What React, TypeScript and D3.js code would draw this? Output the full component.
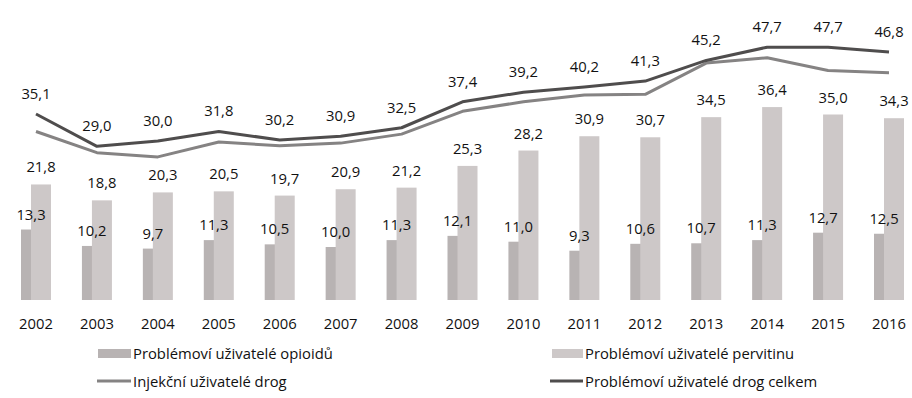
import React from "react";
import * as d3 from "d3";

const years = ["2002","2003","2004","2005","2006","2007","2008","2009","2010","2011","2012","2013","2014","2015","2016"];
const opioids = [13.3,10.2,9.7,11.3,10.5,10.0,11.3,12.1,11.0,9.3,10.6,10.7,11.3,12.7,12.5];
const pervitin = [21.8,18.8,20.3,20.5,19.7,20.9,21.2,25.3,28.2,30.9,30.7,34.5,36.4,35.0,34.3];
const injecting = [31.8,27.8,27.0,29.8,29.1,29.6,31.3,35.6,37.4,38.7,38.8,44.7,45.7,43.3,42.9];
const total = [35.1,29.0,30.0,31.8,30.2,30.9,32.5,37.4,39.2,40.2,41.3,45.2,47.7,47.7,46.8];
const legendLabels = ["Problémoví uživatelé opioidů","Problémoví uživatelé pervitinu","Injekční uživatelé drog","Problémoví uživatelé drog celkem"];

const W = 912, H = 398;
const FONT = "'Open Sans', 'Noto Sans', sans-serif";
const C_OPI = "#b8b3b3";
const C_PER = "#cdc8c8";
const C_INJ = "#858383";
const C_TOT = "#4f4d4d";
const C_TXT = "#111111";

const fmt = (v: number) => v.toFixed(1).replace(".", ",");

export default function App() {
  const x = d3.scalePoint<string>().domain(years).range([36, 889]);
  const y = d3.scaleLinear().domain([0, 50]).range([300, 35]);
  const barW = 20;
  const line = d3.line<number>().x((_, i) => x(years[i])!).y(d => y(d));

  return (
    <svg width={W} height={H} style={{ position: "absolute", left: 0, top: 0, background: "#fff" }} fontFamily={FONT}>
      <rect width={W} height={H} fill="#fff" />
      {years.map((yr, i) => {
        const cx = x(yr)!;
        return (
          <g key={yr}>
            <rect x={cx - 15} y={y(opioids[i])} width={barW} height={y(0) - y(opioids[i])} fill={C_OPI} />
            <rect x={cx - 5} y={y(pervitin[i])} width={barW} height={y(0) - y(pervitin[i])} fill={C_PER} />
          </g>
        );
      })}
      <path d={line(injecting)!} fill="none" stroke={C_INJ} strokeWidth={3} strokeLinejoin="round" />
      <path d={line(total)!} fill="none" stroke={C_TOT} strokeWidth={3} strokeLinejoin="round" />
      {years.map((yr, i) => {
        const cx = x(yr)!;
        return (
          <g key={"l" + yr} fontSize={14.8} fill={C_TXT} textAnchor="middle">
            <text x={cx - 5} y={y(opioids[i]) - 10}>{fmt(opioids[i])}</text>
            <text x={cx + 5} y={y(pervitin[i]) - 12}>{fmt(pervitin[i])}</text>
            <text x={cx} y={y(total[i]) - 15}>{fmt(total[i])}</text>
            <text x={cx} y={328.5}>{yr}</text>
          </g>
        );
      })}
      <g fontSize={14.8} fill={C_TXT}>
        <rect x={98} y={349} width={33} height={9} fill={C_OPI} />
        <text x={133} y={358.5}>{legendLabels[0]}</text>
        <rect x={552} y={349} width={31} height={9} fill={C_PER} />
        <text x={585} y={358.5}>{legendLabels[1]}</text>
        <line x1={97} x2={131} y1={381} y2={381} stroke={C_INJ} strokeWidth={3} />
        <text x={133} y={386.5}>{legendLabels[2]}</text>
        <line x1={550} x2={583} y1={381} y2={381} stroke={C_TOT} strokeWidth={3} />
        <text x={585} y={386.5}>{legendLabels[3]}</text>
      </g>
    </svg>
  );
}
